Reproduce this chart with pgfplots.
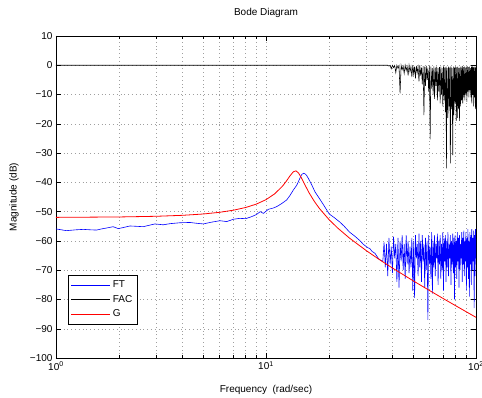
\documentclass[border=0pt]{standalone}
\usepackage{fontspec}
\setmainfont{Liberation Sans}
\usepackage{pgfplots}
\pgfplotsset{compat=1.18}
\definecolor{mblue}{RGB}{0,0,255}
\definecolor{mred}{RGB}{255,0,0}
\begin{document}
\fontsize{10}{12}\selectfont
\begin{tikzpicture}
\begin{axis}[
  scale only axis,
  width=420pt, height=322pt,
  xmode=log,
  xmin=1, xmax=100,
  ymin=-100, ymax=10,
  xtick={1,10,100},
  xticklabels={10\textsuperscript{0},10\textsuperscript{1},10\textsuperscript{2}},
  ytick={-100,-90,...,10},
  yticklabels={−100,−90,−80,−70,−60,−50,−40,−30,−20,−10,0,10},
  tick align=inside,
  major tick length=5pt,
  minor tick length=3pt,
  grid=both,
  major grid style={dash pattern=on 0.8pt off 3pt, gray!75, line width=0.4pt},
  minor grid style={dash pattern=on 0.8pt off 3pt, gray!75, line width=0.4pt},
  tick style={black, line width=0.4pt},
  axis line style={black, line width=0.5pt},
  ticklabel style={font=\fontsize{10}{12}\selectfont},
  title={Bode Diagram},
  every axis title shift=0pt,
  title style={at={(axis description cs:0.5,1)}, anchor=base, yshift=20pt, font=\fontsize{10}{12}\selectfont},
  xlabel={Frequency\ \ (rad/sec)},
  xlabel style={at={(axis description cs:0.5,0)}, anchor=base, yshift=-35pt, font=\fontsize{10}{12}\selectfont},
  ylabel={Magnitude (dB)},
  ylabel style={at={(axis description cs:-0.1,0.5)}, anchor=center, rotate=0, font=\fontsize{10}{12}\selectfont},
  legend style={at={(axis description cs:0.028,0.104)}, anchor=south west, draw=black, fill=white, line width=0.5pt,
    font=\fontsize{10}{12}\selectfont, row sep=2pt, inner xsep=3pt, inner ysep=4pt},
  legend cell align=left,
]
\addlegendimage{legend image code/.code={\draw[mblue, line width=0.8pt] (0pt,0pt) -- (39pt,0pt);}}
\addlegendentry{FT}
\addlegendimage{legend image code/.code={\draw[black, line width=0.8pt] (0pt,0pt) -- (39pt,0pt);}}
\addlegendentry{FAC}
\addlegendimage{legend image code/.code={\draw[mred, line width=0.8pt] (0pt,0pt) -- (39pt,0pt);}}
\addlegendentry{G}
% FT
\addplot[mblue, line width=0.6pt, forget plot] coordinates {
(1,-55.9) (1.12,-56.5) (1.25,-56.2) (1.35,-56.06) (1.45,-56.2) (1.56,-56.3) (1.65,-55.9) (1.74,-55.6)
(1.87,-55.15) (1.98,-55.8) (2.1,-55.4) (2.25,-54.9) (2.4,-55.0) (2.6,-55.15) (2.8,-54.6) (2.96,-54.2)
(3.24,-54.5) (3.5,-54.1) (3.89,-53.8) (4.34,-53.7) (4.7,-54.0) (5.03,-54.2) (5.5,-53.6) (6.04,-53.1)
(6.5,-53.4) (7.0,-52.6) (7.5,-52.3) (8.0,-52.4) (8.55,-51.7) (9.0,-51.0) (9.39,-50.0) (9.72,-50.6)
(10.26,-49.2) (10.8,-48.8) (11.24,-48.3) (11.9,-47.2) (12.55,-46.0) (13.0,-44.5) (13.5,-42.6) (14.0,-41.0)
(14.26,-39.8) (14.5,-38.6) (14.8,-37.3) (15.1,-36.9) (15.35,-37.1) (15.6,-37.6) (15.9,-38.6) (16.5,-40.8)
(17.1,-43.2) (18.0,-45.6) (18.8,-47.7) (20.0,-50.8) (21.1,-52.0) (22.5,-53.6) (23.5,-54.9) (25.0,-57.0)
(26.5,-58.4) (28.0,-59.9) (29.1,-61.2) (30.5,-62.3) (31.2,-62.6) (32.0,-63.6) (33.0,-64.2) (34.3,-66.0) (35.0,-66.5)
(36.0,-67.0)
(36.5,-60.5) (37,-69) (37.5,-61) (38,-72) (38.5,-59) (39,-68) (39.5,-62) (40,-71)
(40.5,-58.5) (41,-66) (41.5,-61) (42,-74) (42.5,-59) (43,-76) (43.5,-60) (44,-67)
(44.5,-58) (45,-70) (45.5,-61) (46,-73) (46.5,-58) (47,-68) (47.5,-60) (48,-71)
(48.5,-62) (49,-69) (49.5,-59) (50,-77) (50.5,-60) (51,-79.5) (51.5,-58) (52,-66)
(52.5,-61) (53,-72) (53.5,-57.5) (54,-69) (54.5,-60) (55,-74) (55.5,-58) (56,-67)
(56.5,-61) (57,-76) (57.5,-59) (58,-70) (58.5,-60) (59,-87) (59.5,-58) (60,-68)
(60.5,-62) (61,-73) (61.5,-57) (62,-78) (62.5,-60) (63,-69) (63.5,-58) (64,-72)
(64.5,-61) (65,-66) (65.5,-57.5) (66,-75) (66.5,-60) (67,-68) (67.5,-58) (68,-73)
(68.5,-61) (69,-70) (69.5,-57) (70,-77) (70.5,-59) (71,-67) (71.5,-58) (72,-74)
(72.5,-60) (73,-69) (73.5,-57) (74,-72) (74.5,-61) (75,-66) (75.5,-58) (76,-75)
(76.5,-60) (77,-68) (77.5,-57.5) (78,-71) (78.5,-59) (79,-80) (79.5,-58) (80,-69)
(80.5,-60) (81,-73) (81.5,-57) (82,-67) (82.5,-59) (83,-76) (83.5,-58) (84,-70)
(84.5,-61) (85,-66) (85.5,-57) (86,-74) (86.5,-59) (87,-68) (87.5,-56.5) (88,-72)
(88.5,-60) (89,-67) (89.5,-57) (90,-77) (90.5,-59) (91,-69) (91.5,-56) (92,-73)
(92.5,-60) (93,-79) (93.5,-57) (94,-68) (94.5,-58) (95,-75) (95.5,-56) (96,-70)
(96.5,-59) (97,-67) (97.5,-56.5) (98,-83) (98.5,-58) (99,-72) (99.5,-56) (100,-66)
};
% FAC
\addplot[black, line width=0.55pt, forget plot] coordinates {
(1,0) (38,0) (38.5,-0.3) (39,0) (39.5,-1.2) (40,0) (40.5,-0.8) (41,-0.1) (41.5,-2.5)
(42,0) (42.5,-1.0) (43,-0.2) (43.5,-9.6) (44,0) (44.5,-1.5) (45,-0.3) (45.5,-2.8)
(46,0) (46.5,-1.8) (47,-0.4) (47.5,-3.5) (48,0) (48.5,-2.2) (49,-0.5) (49.5,-4.0)
(50,0) (50.5,-3.0) (51,-0.5) (51.5,-4.5) (52,-0.2) (52.5,-2.5) (53,-0.6) (53.5,-5.5)
(54,0) (54.5,-3.5) (55,-0.8) (55.5,-6.5) (56,-0.3) (56.5,-17) (57,-0.5) (57.5,-7)
(58,-0.2) (58.5,-5) (59,-0.8) (59.5,-9) (60,-0.3) (60.5,-25.3) (61,-0.5) (61.5,-8)
(62,-1) (62.5,-10) (63,-0.4) (63.5,-11.5) (64,-0.8) (64.5,-7) (65,-0.5) (65.5,-12)
(66,-1) (66.5,-9) (67,-0.6) (67.5,-13) (68,-0.5) (68.5,-10) (69,-1) (69.5,-14)
(70,-0.4) (70.5,-12) (71,-0.8) (71.5,-16) (72,-0.5) (72.3,-35.2) (72.8,-1) (73.5,-18)
(74,-0.5) (74.5,-14) (75,-0.8) (75.5,-33.5) (76,-0.4) (76.5,-15) (77,-1) (77.5,-30.7)
(78,-0.5) (78.5,-17) (79,-0.8) (79.5,-13) (80,-0.4) (80.5,-19) (81,-0.6) (81.5,-18)
(82,-0.5) (82.5,-15) (83,-1) (83.5,-19) (84,-0.5) (84.5,-14) (85,-0.8) (85.5,-12)
(86,-0.3) (86.5,-13) (87,-0.6) (87.5,-11) (88,-0.5) (88.5,-12) (89,-0.8) (89.5,-10)
(90,-0.5) (90.5,-12.5) (91,-0.4) (91.5,-9) (92,-0.6) (92.5,-11) (93,-0.5) (93.5,-8.5)
(94,-1) (94.5,-11) (95,-0.5) (95.5,-13) (96,-0.4) (96.5,-10) (97,-0.7) (97.5,-14)
(98,-0.5) (98.5,-11) (99,-0.8) (99.5,-15) (100,-0.5)
};
% G
\addplot[mred, line width=0.8pt, forget plot] coordinates {
(1,-51.96) (2,-51.82) (3,-51.59) (4,-51.26) (5,-50.82) (6,-50.24) (7,-49.51) (8,-48.59)
(9,-47.42) (10,-45.91) (11,-43.92) (12,-41.24) (12.5,-39.58) (13,-37.81) (13.5,-36.37)
(13.9,-36.08) (14.3,-36.84) (14.7,-38.30) (15,-39.55) (16,-43.45) (17,-46.53) (18,-49.00)
(20,-52.79) (22,-55.67) (25,-59.06) (30,-63.30) (35,-66.58) (40,-69.26) (50,-73.55)
(60,-76.93) (70,-79.74) (80,-82.14) (90,-84.24) (100,-86.11)
};
\end{axis}
\pgfresetboundingbox
\path[use as bounding box] (current axis.south west) ++(-56pt,-40pt) rectangle ++(482pt,398pt);
\end{tikzpicture}
\end{document}
